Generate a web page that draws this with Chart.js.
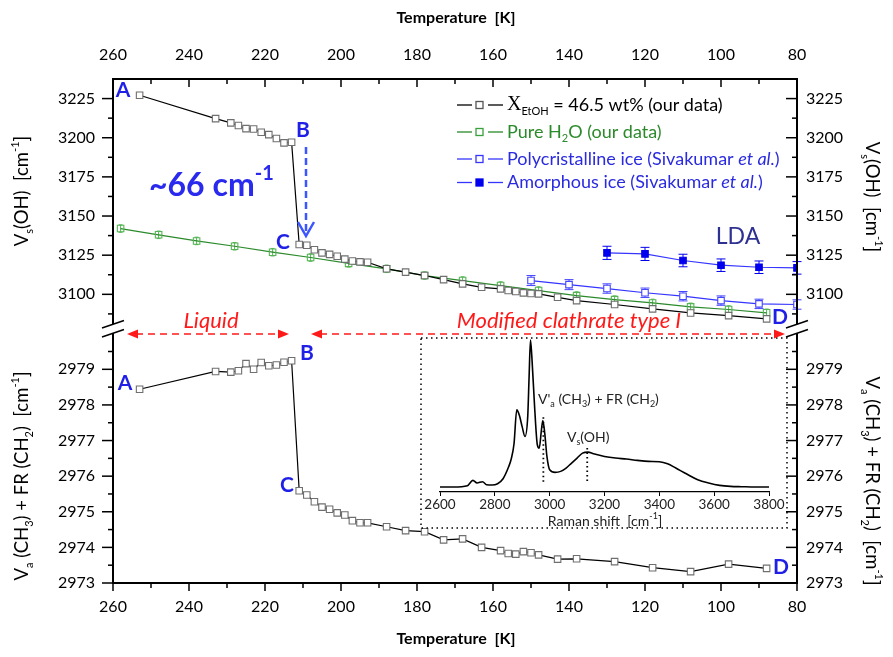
<!DOCTYPE html>
<html>
<head>
<meta charset="utf-8">
<script src="https://cdn.jsdelivr.net/npm/chart.js@4.4.1/dist/chart.umd.min.js"></script>
<style>
  html, body { margin: 0; padding: 0; background: #fff; }
  #wrap { position: relative; width: 893px; height: 657px; }
  #mainChart { position: absolute; left: 0; top: 0; }
  #insetChart { position: absolute; left: 421px; top: 338px; }
</style>
</head>
<body>
<div id="wrap">
  <canvas id="mainChart" width="893" height="657"></canvas>
  <canvas id="insetChart" width="366" height="190"></canvas>
</div>
<script>
// ---- data ----
const tempMix = [253, 233, 229, 227, 225, 223, 221, 219, 217, 215, 213, 211, 209, 207, 205, 203, 201, 199, 197, 195,
                 193, 188, 183, 178, 173, 168, 163, 158, 156, 154, 152, 150, 148, 143, 138, 128, 118, 108, 98, 88];
const ohMix = [3227.1, 3212.2, 3209.5, 3207.8, 3205.8, 3205.6, 3203.5, 3202.0, 3199.5, 3196.7, 3197.1, 3131.8, 3131.3,
               3128.5, 3126.5, 3125.5, 3124.3, 3122.5, 3121.3, 3120.7, 3120.5, 3116.3, 3114.2, 3112.0, 3109.4, 3106.7,
               3104.5, 3103.5, 3102.4, 3101.8, 3100.9, 3100.5, 3100.3, 3098.1, 3096.0, 3093.5, 3090.7, 3088.1, 3086.4, 3084.3];
const chMix = [2978.44, 2978.94, 2978.92, 2978.96, 2979.16, 2979.00, 2979.19, 2979.10, 2979.12, 2979.20, 2979.24,
               2975.59, 2975.47, 2975.28, 2975.13, 2975.07, 2974.97, 2974.91, 2974.75, 2974.69, 2974.69, 2974.58,
               2974.47, 2974.44, 2974.21, 2974.24, 2974.00, 2973.91, 2973.83, 2973.81, 2973.88, 2973.85, 2973.79,
               2973.67, 2973.68, 2973.60, 2973.43, 2973.32, 2973.53, 2973.41];

const tempH2O = [258, 248, 238, 228, 218, 208, 198, 188, 178, 168, 158, 148, 138, 128, 118, 108, 98, 88];
const ohH2O = [3142.0, 3138.0, 3134.1, 3130.7, 3126.9, 3123.5, 3119.8, 3116.3, 3112.0, 3108.8, 3105.6, 3102.4,
               3099.2, 3096.6, 3094.5, 3092.0, 3090.3, 3088.2];
const errH2O = [2.4, 2.4, 2.4, 2.4, 2.4, 2.4, 2.4, 2.4, 2.4, 2.4, 2.4, 2.4, 2.4, 2.4, 2.4, 2.4, 2.4, 2.4];

const tempPoly = [150, 140, 130, 120, 110, 100, 90, 80];
const ohPoly = [3108.8, 3106.2, 3103.7, 3101.0, 3098.8, 3096.0, 3093.9, 3093.5];
const errPoly = [3.2, 3.2, 3.0, 3.0, 3.0, 3.0, 3.0, 3.0];

const tempAmor = [130, 120, 110, 100, 90, 80];
const ohAmor = [3126.5, 3125.8, 3121.6, 3118.6, 3117.3, 3116.9];
const errAmor = [4.2, 4.2, 4.0, 4.0, 4.0, 4.0];

// inset Raman spectrum (arbitrary intensity)
const ramanShift = [2600, 2650, 2700, 2720, 2735, 2755, 2770, 2790, 2810, 2830, 2850, 2860, 2870, 2880, 2890, 2900,
                    2910, 2920, 2925, 2930, 2935, 2945, 2955, 2962, 2970, 2975, 2982, 2990, 3000, 3020, 3040, 3060,
                    3080, 3100, 3120, 3140, 3160, 3200, 3240, 3280, 3320, 3360, 3400, 3430, 3460, 3500, 3540, 3580,
                    3620, 3660, 3700, 3750, 3800];
const ramanInt = [0, 0, 4, 20, 12, 16, 7, 6, 10, 25, 60, 85, 130, 232, 214, 180, 152, 212, 332, 442, 392, 242, 127,
                  117, 172, 200, 162, 92, 52, 44, 47, 57, 72, 87, 102, 105, 100, 92, 87, 84, 80, 77, 76, 70, 57, 39,
                  22, 12, 5, 2, 1, 0, 0];
const markShift = [2977, 3137];
const markTop = [210, 117];

const FONT = 'Lato, "Noto Sans", sans-serif';
const LETTER = '#1f1fe6';
const GREEN = '#2b8a2b';
const BLUE = '#3535ff';

function pts(xs, ys) {
  return xs.map((x, i) => ({ x: x, y: ys[i] }));
}

function seg(ctx, x1, y1, x2, y2) {
  ctx.beginPath();
  ctx.moveTo(x1, y1);
  ctx.lineTo(x2, y2);
  ctx.stroke();
}

// text with sub/superscripts: parts = [[text, kind, font?], ...]
function fontFor(kind, size, bold, italic) {
  const s = (kind === 'sub' || kind === 'sup') ? Math.round(size * 0.62) : size;
  const it = (kind === 'it' || italic) ? 'italic ' : '';
  return it + (bold ? 'bold ' : '') + s + 'px ' + FONT;
}

function drawRich(ctx, parts, x, y, o) {
  ctx.save();
  ctx.fillStyle = o.color || '#000';
  ctx.textBaseline = 'middle';
  ctx.textAlign = 'left';
  let w = 0;
  parts.forEach(p => { ctx.font = p[2] || fontFor(p[1], o.size, o.bold, o.italic); w += ctx.measureText(p[0]).width; });
  let cx = o.align === 'center' ? x - w / 2 : (o.align === 'right' ? x - w : x);
  parts.forEach(p => {
    ctx.font = p[2] || fontFor(p[1], o.size, o.bold, o.italic);
    const dy = p[1] === 'sub' ? o.size * 0.38 : (p[1] === 'sup' ? -o.size * 0.38 : 0);
    ctx.fillText(p[0], cx, y + dy);
    cx += ctx.measureText(p[0]).width;
  });
  ctx.restore();
}

function drawRotated(ctx, parts, x, y, angle, o) {
  ctx.save();
  ctx.translate(x, y);
  ctx.rotate(angle);
  drawRich(ctx, parts, 0, 0, Object.assign({ align: 'center' }, o));
  ctx.restore();
}

function arrowHead(ctx, x, y, dir) {
  ctx.beginPath();
  ctx.moveTo(x, y);
  ctx.lineTo(x - dir * 11, y - 4.5);
  ctx.lineTo(x - dir * 11, y + 4.5);
  ctx.closePath();
  ctx.fill();
}

// ---- plugins ----
const errorBars = {
  id: 'errorBars',
  beforeDatasetsDraw(chart) {
    const ctx = chart.ctx;
    chart.data.datasets.forEach(ds => {
      if (!ds.errs) return;
      const ys = chart.scales[ds.yAxisID];
      ctx.save();
      ctx.strokeStyle = ds.pointBorderColor;
      ctx.lineWidth = 1;
      ds.data.forEach((p, j) => {
        const px = chart.scales.x.getPixelForValue(p.x);
        const y1 = ys.getPixelForValue(p.y - ds.errs[j]);
        const y2 = ys.getPixelForValue(p.y + ds.errs[j]);
        const cap = ds.capW;
        seg(ctx, px, y1, px, y2);
        seg(ctx, px - cap, y1, px + cap, y1);
        seg(ctx, px - cap, y2, px + cap, y2);
      });
      ctx.restore();
    });
  }
};

const framePlugin = {
  id: 'frame',
  afterDatasetsDraw(chart) {
    const ctx = chart.ctx;
    const a = chart.chartArea;
    const sx = chart.scales.x;
    const yT = chart.scales.yT;
    const yB = chart.scales.yB;
    const mid = yT.bottom;
    ctx.save();
    ctx.strokeStyle = '#000';
    ctx.lineWidth = 2;
    seg(ctx, a.left - 1, a.top, a.right + 1, a.top);
    seg(ctx, a.left - 1, a.bottom, a.right + 1, a.bottom);
    [a.left, a.right].forEach(px => {
      seg(ctx, px, a.top, px, mid - 4);
      seg(ctx, px, mid + 5, px, a.bottom);
    });
    ctx.lineWidth = 1.5;
    for (let t = 80; t <= 260; t += 10) {
      const px = sx.getPixelForValue(t);
      const len = t % 20 === 0 ? 8 : 5;
      seg(ctx, px, a.top, px, a.top + len);
      seg(ctx, px, a.bottom, px, a.bottom + len);
    }
    const yTicks = (scale, from, to, step, major) => {
      for (let v = from; v <= to + 1e-6; v += step) {
        const py = scale.getPixelForValue(v);
        const len = Math.abs(v / major - Math.round(v / major)) < 1e-6 ? 11 : 5;
        seg(ctx, a.left - len, py, a.left, py);
        seg(ctx, a.right - len, py, a.right, py);
      }
    };
    yTicks(yT, 3087.5, 3225, 12.5, 25);
    yTicks(yB, 2973, 2979.5, 0.5, 1);
    // axis break marks
    [a.left, a.right].forEach(px => {
      seg(ctx, px - 11, mid, px + 11, mid - 7.5);
      seg(ctx, px - 11, mid + 9, px + 11, mid + 1.5);
    });

    // inset frame
    ctx.lineWidth = 1.5;
    ctx.setLineDash([1.5, 3.5]);
    ctx.strokeRect(421, 338, 366, 190);
    ctx.restore();
  }
};

const labelsPlugin = {
  id: 'labels',
  afterDraw(chart) {
    const ctx = chart.ctx;

    // axis titles
    drawRich(ctx, [['Temperature  [K]', 'n']], 456, 18, { size: 16, bold: true, align: 'center' });
    drawRich(ctx, [['Temperature  [K]', 'n']], 456, 639, { size: 16, bold: true, align: 'center' });
    const ohTitle = [['V', 'n'], ['s', 'sub'], ['(OH)  [cm', 'n'], ['-1', 'sup'], [']', 'n']];
    const chTitle = [['V', 'n'], ['a', 'sub'], [' (CH', 'n'], ['3', 'sub'], [') + FR (CH', 'n'], ['2', 'sub'],
                     [')  [cm', 'n'], ['-1', 'sup'], [']', 'n']];
    drawRotated(ctx, ohTitle, 22, 191, -Math.PI / 2, { size: 18.5 });
    drawRotated(ctx, chTitle, 22, 476, -Math.PI / 2, { size: 18.5 });
    drawRotated(ctx, ohTitle, 872, 197, Math.PI / 2, { size: 18.5 });
    drawRotated(ctx, chTitle, 872, 481, Math.PI / 2, { size: 18.5 });

    // legend
    const rows = [
      { y: 105, line: '#000', mark: '#555', fill: '#fff', color: '#000',
        parts: [['X', 'n', '20px "Liberation Serif", serif'], ['EtOH', 'sub'], [' = 46.5 wt% (our data)', 'n']] },
      { y: 132, line: GREEN, mark: '#3aa03a', fill: '#fff', color: GREEN,
        parts: [['Pure H', 'n'], ['2', 'sub'], ['O (our data)', 'n']] },
      { y: 159, line: BLUE, mark: BLUE, fill: '#fff', color: '#2a2ae0',
        parts: [['Polycristalline ice (Sivakumar ', 'n'], ['et al.', 'it'], [')', 'n']] },
      { y: 182.5, line: BLUE, mark: '#0000ee', fill: '#0000ee', color: '#2a2ae0',
        parts: [['Amorphous ice (Sivakumar ', 'n'], ['et al.', 'it'], [')', 'n']] }
    ];
    rows.forEach(r => {
      ctx.save();
      ctx.strokeStyle = r.line;
      ctx.lineWidth = 1.3;
      seg(ctx, 457, r.y, 472, r.y);
      seg(ctx, 488, r.y, 503, r.y);
      ctx.fillStyle = r.fill;
      ctx.strokeStyle = r.mark;
      ctx.fillRect(476, r.y - 3.5, 7, 7);
      ctx.strokeRect(476, r.y - 3.5, 7, 7);
      ctx.restore();
      drawRich(ctx, r.parts, 507, r.y, { size: 18, color: r.color });
    });

    // point letters
    const L = (t, x, y) => drawRich(ctx, [[t, 'n']], x, y, { size: 21, bold: true, color: LETTER, align: 'center' });
    L('A', 123, 90); L('B', 303, 130); L('C', 283, 242); L('D', 780, 317);
    L('A', 125, 383); L('B', 307, 353); L('C', 287, 485); L('D', 781, 567);

    drawRich(ctx, [['~66 cm', 'n'], ['-1', 'sup']], 149, 186, { size: 32, bold: true, color: '#2a2aee' });
    drawRich(ctx, [['LDA', 'n']], 738, 237, { size: 23, color: '#2e3192', align: 'center' });

    // blue dashed arrow (B -> C)
    ctx.save();
    ctx.strokeStyle = '#3b55ff';
    ctx.lineWidth = 2.5;
    ctx.setLineDash([7, 4]);
    seg(ctx, 306, 147, 306, 234);
    ctx.setLineDash([]);
    ctx.beginPath();
    ctx.moveTo(298, 222);
    ctx.lineTo(306, 236);
    ctx.lineTo(314, 222);
    ctx.stroke();
    ctx.restore();

    // red phase arrows
    ctx.save();
    ctx.strokeStyle = '#ff1a1a';
    ctx.fillStyle = '#ff1a1a';
    ctx.lineWidth = 1.6;
    ctx.setLineDash([7, 5]);
    seg(ctx, 136, 334, 280, 334);
    seg(ctx, 320, 334, 776, 334);
    ctx.setLineDash([]);
    arrowHead(ctx, 127, 334, -1);
    arrowHead(ctx, 289, 334, 1);
    arrowHead(ctx, 311, 334, -1);
    arrowHead(ctx, 785, 334, 1);
    ctx.restore();
    drawRich(ctx, [['Liquid', 'n']], 211, 321, { size: 22, italic: true, color: '#ff1a1a', align: 'center' });
    drawRich(ctx, [['Modified clathrate type I', 'n']], 569, 321, { size: 22, italic: true, color: '#ff1a1a', align: 'center' });
  }
};

// ---- main chart ----
const ctx = document.getElementById('mainChart').getContext('2d');
const tickFont = { family: FONT, size: 16 };
const asText = v => String(v);

function tempAxis(pos, pad, h) {
  return {
    type: 'linear', position: pos, reverse: true, min: 80, max: 260,
    ticks: { stepSize: 20, font: tickFont, color: '#000', padding: pad, maxRotation: 0, callback: asText },
    grid: { display: false, drawTicks: false },
    border: { display: false },
    afterFit(s) { s.height = h; }
  };
}

function valueAxis(pos, stack, sw, w, min, max, step, top, pad, width) {
  return {
    type: 'linear', position: pos, stack: stack, stackWeight: sw, weight: w, min: min, max: max,
    ticks: { stepSize: step, includeBounds: false, font: tickFont, color: '#000', padding: pad,
             callback: v => (v <= top ? String(v) : '') },
    grid: { display: false, drawTicks: false },
    border: { display: false },
    afterFit(s) { s.width = width; }
  };
}

const mainChart = new Chart(ctx, {
  type: 'line',
  data: {
    datasets: [
      { data: pts(tempMix, ohMix), yAxisID: 'yT', xAxisID: 'x', borderColor: '#000', borderWidth: 1.2,
        pointStyle: 'rect', pointRadius: 4.6, pointBorderColor: '#6f6f6f', pointBackgroundColor: '#fff', pointBorderWidth: 1.1 },
      { data: pts(tempMix, chMix), yAxisID: 'yB', xAxisID: 'x', borderColor: '#000', borderWidth: 1.2,
        pointStyle: 'rect', pointRadius: 4.6, pointBorderColor: '#6f6f6f', pointBackgroundColor: '#fff', pointBorderWidth: 1.1 },
      { data: pts(tempH2O, ohH2O), errs: errH2O, capW: 2, yAxisID: 'yT', xAxisID: 'x', borderColor: GREEN, borderWidth: 1.2,
        pointStyle: 'rect', pointRadius: 4.6, pointBorderColor: '#55b555', pointBackgroundColor: 'rgba(255,255,255,0)', pointBorderWidth: 1.1 },
      { data: pts(tempPoly, ohPoly), errs: errPoly, capW: 4.5, yAxisID: 'yT', xAxisID: 'x', borderColor: BLUE, borderWidth: 1.2,
        pointStyle: 'rect', pointRadius: 4.6, pointBorderColor: '#4545ff', pointBackgroundColor: '#fff', pointBorderWidth: 1.1 },
      { data: pts(tempAmor, ohAmor), errs: errAmor, capW: 4.5, yAxisID: 'yT', xAxisID: 'x', borderColor: BLUE, borderWidth: 1.2,
        pointStyle: 'rect', pointRadius: 4.6, pointBorderColor: '#0000ee', pointBackgroundColor: '#0000ee', pointBorderWidth: 1.1 }
    ]
  },
  options: {
    responsive: false,
    animation: false,
    layout: { padding: 0 },
    plugins: { legend: { display: false }, tooltip: { enabled: false } },
    scales: {
      x: tempAxis('bottom', 14, 74),
      x2: tempAxis('top', 15, 79),
      yT: valueAxis('left', 'left', 249, 1, 3078.5, 3237.5, 25, 3225, 18, 113),
      yB: valueAxis('left', 'left', 255, 0, 2973, 2980.16, 1, 2979, 18, 113),
      yTR: valueAxis('right', 'right', 249, 0, 3078.5, 3237.5, 25, 3225, 9, 96),
      yBR: valueAxis('right', 'right', 255, 1, 2973, 2980.16, 1, 2979, 9, 96)
    }
  },
  plugins: [errorBars, framePlugin, labelsPlugin]
});

// ---- inset spectrum ----
const insetLabels = {
  id: 'insetLabels',
  afterDraw(chart) {
    const c = chart.ctx;
    const sx = chart.scales.x;
    const sy = chart.scales.y;
    c.save();
    c.strokeStyle = '#000';
    c.lineWidth = 1.8;
    c.setLineDash([1.5, 3]);
    markShift.forEach((m, i) => {
      const px = sx.getPixelForValue(m);
      seg(c, px, sy.getPixelForValue(markTop[i]), px, sy.getPixelForValue(15));
    });
    c.restore();
    drawRich(c, [["V'", 'n'], ['a', 'sub'], [' (CH', 'n'], ['3', 'sub'], [') + FR (CH', 'n'], ['2', 'sub'], [')', 'n']],
             117, 61, { size: 14, color: '#222' });
    drawRich(c, [['V', 'n'], ['s', 'sub'], ['(OH)', 'n']], 146, 99, { size: 14, color: '#222' });
    drawRich(c, [['Raman shift  [cm', 'n'], ['-1', 'sup'], [']', 'n']], 184, 183, { size: 14, color: '#222', align: 'center' });
  }
};

const insetChart = new Chart(document.getElementById('insetChart').getContext('2d'), {
  type: 'line',
  data: {
    datasets: [{ data: pts(ramanShift, ramanInt), borderColor: '#000', borderWidth: 1.6, pointRadius: 0,
                 cubicInterpolationMode: 'monotone', fill: false }]
  },
  options: {
    responsive: false,
    animation: false,
    layout: { padding: { left: 19, right: 18, top: 0, bottom: 0 } },
    plugins: { legend: { display: false }, tooltip: { enabled: false } },
    scales: {
      x: {
        type: 'linear', min: 2600, max: 3800,
        ticks: { stepSize: 200, font: { family: FONT, size: 13.5 }, color: '#222', padding: 1, maxRotation: 0, callback: asText },
        grid: { drawOnChartArea: false, tickLength: 4, color: '#000' },
        border: { color: '#000', width: 1.2 },
        afterFit(s) { s.height = 36; }
      },
      y: { display: false, min: -15, max: 448 }
    }
  },
  plugins: [insetLabels]
});
</script>
</body>
</html>
